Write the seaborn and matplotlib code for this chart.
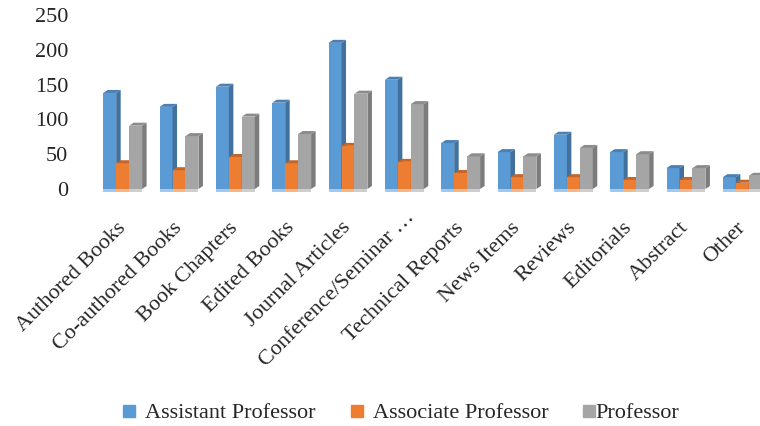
import numpy as np
import pandas as pd
import matplotlib
matplotlib.use("Agg")
import matplotlib.pyplot as plt
from matplotlib.patches import Polygon
from matplotlib.lines import Line2D
from matplotlib.colors import to_rgb
from matplotlib.transforms import ScaledTranslation
import seaborn as sns

# Publication counts by output type and academic rank
categories = ["Authored Books", "Co-authored Books", "Book Chapters", "Edited Books",
              "Journal Articles", "Conference/Seminar \u2026", "Technical Reports",
              "News Items", "Reviews", "Editorials", "Abstract", "Other"]
assistant = [138, 118, 147, 124, 210, 157, 66, 53, 78, 53, 30, 17]
associate = [37, 27, 46, 37, 62, 39, 23, 17, 17, 13, 13, 9]
professor = [91, 76, 104, 79, 137, 122, 47, 47, 59, 50, 30, 19]
series_names = ["Assistant Professor", "Associate Professor", "Professor"]
y_ticks = [0, 50, 100, 150, 200, 250]

front_colors = ["#5B9BD5", "#ED7D31", "#A5A5A5"]
side_colors = ["#41719C", "#AE5A21", "#7C7C7C"]
top_colors = ["#4A80B3", "#C4652A", "#8C8C8C"]

df = pd.DataFrame({
    "category": categories * 3,
    "rank": sum([[n] * len(categories) for n in series_names], []),
    "count": assistant + associate + professor,
})

sns.set_theme(style="white")
plt.rcParams["font.family"] = ["Liberation Serif", "DejaVu Serif"]

fig = plt.figure(figsize=(7.6, 4.26), dpi=100)
W, H = 760, 426
ax = fig.add_axes([94.5 / W, (H - 189) / H, 676 / W, 174 / H])

sns.barplot(data=df, x="category", y="count", hue="rank", hue_order=series_names,
            order=categories, palette=front_colors, width=0.69, saturation=1,
            linewidth=0, legend=False, ax=ax)

ax.set_ylim(0, 250)
ax.set_yticks(y_ticks)
ax.set_yticklabels([str(t) for t in y_ticks], fontsize=16)
ax.set_xlabel("")
ax.set_ylabel("")
ax.set_xticks(range(len(categories)))
ax.set_xticklabels(categories, fontsize=16, rotation=45, ha="right",
                   va="center", rotation_mode="anchor")
ax.tick_params(axis="y", length=0, pad=19)
ax.tick_params(axis="x", length=0, pad=26)
for s in ax.spines.values():
    s.set_visible(False)
ax.grid(False)

# The truncated label hangs its ellipsis past the tick position
for lab in ax.get_xticklabels():
    if lab.get_text().endswith("\u2026"):
        lab.set_transform(lab.get_transform() +
                          ScaledTranslation(8 / 100, 10 / 100, fig.dpi_scale_trans))

# Extruded side and top faces give the bars a 3-D look
fig.canvas.draw()
to_disp = ax.transData
to_data = ax.transData.inverted()
DX, DY = 4.5, 3.0
for i, cont in enumerate(ax.containers):
    light = tuple(0.55 * c + 0.45 for c in to_rgb(front_colors[i]))
    for p in cont.patches:
        p.set_zorder(2 + i)
        x0, w, h = p.get_x(), p.get_width(), p.get_height()
        bl, br, tr, tl = to_disp.transform([(x0, 0), (x0 + w, 0), (x0 + w, h), (x0, h)])
        off = np.array([DX, DY])
        side = to_data.transform([br, br + off, tr + off, tr])
        top = to_data.transform([tl, tr, tr + off, tl + off])
        floor = to_data.transform([bl, br, br - [0, 2.5], bl - [0, 2.5]])
        ax.add_patch(Polygon(side, closed=True, facecolor=side_colors[i],
                             edgecolor="none", zorder=2 + i, clip_on=False))
        ax.add_patch(Polygon(top, closed=True, facecolor=top_colors[i],
                             edgecolor="none", zorder=2 + i, clip_on=False))
        ax.add_patch(Polygon(floor, closed=True, facecolor=light,
                             edgecolor="none", zorder=2 + i, clip_on=False))

# Legend entries along the bottom
entry_left = [123, 351, 583]
entry_pad = [0.45, 0.45, 0.02]
for name, col, xl, pad in zip(series_names, front_colors, entry_left, entry_pad):
    h = Line2D([], [], marker="s", linestyle="none", markersize=8,
               markerfacecolor=col, markeredgecolor=col)
    fig.legend([h], [name], loc="center left", bbox_to_anchor=(xl / W, 1 - 413 / H),
               frameon=False, fontsize=16, handlelength=0.55, handletextpad=pad,
               borderpad=0, borderaxespad=0)

fig.savefig("out.png", dpi=100, facecolor="white")
